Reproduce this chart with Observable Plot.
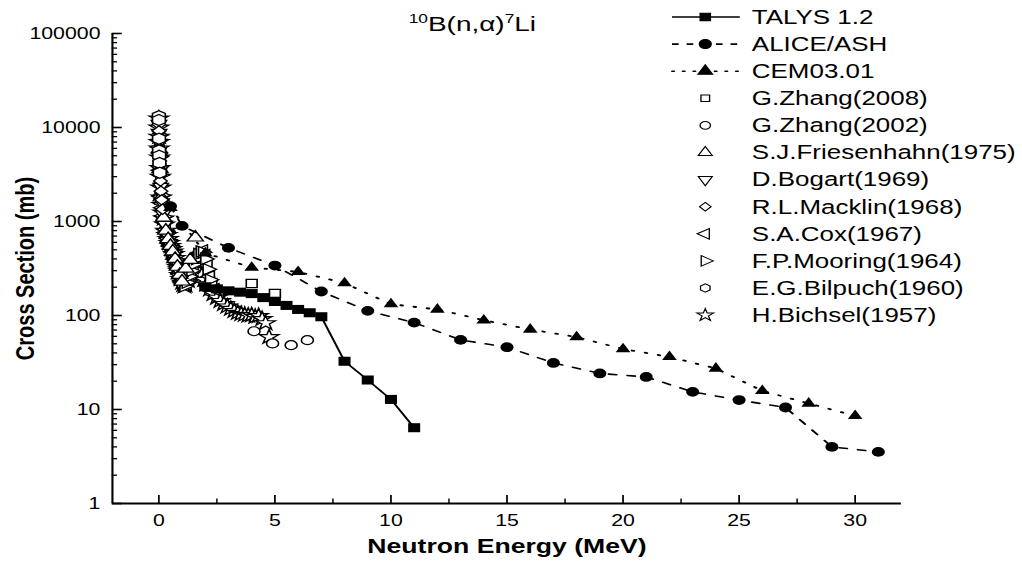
<!DOCTYPE html>
<html><head><meta charset="utf-8">
<script src="https://cdn.jsdelivr.net/npm/d3@7"></script>
<script src="https://cdn.jsdelivr.net/npm/@observablehq/plot@0.6"></script>
<style>
html,body{margin:0;padding:0;background:#fff;overflow:hidden}
#wrap{width:768px;height:569px;transform:scaleX(1.3307);transform-origin:0 0;}
</style></head><body><div id="wrap"></div>
<script>
// ---------------- data (E in MeV, cross section in mb) ----------------
const talysE  = [2, 2.5, 3, 3.5, 4, 4.5, 5, 5.5, 6, 6.5, 7, 8, 9, 10, 11];
const talysXS = [202, 192, 183, 177, 171, 155, 141, 128, 116, 107, 97, 32.6, 20.6, 12.8, 6.4];

const aliceE  = [0.5, 1, 3, 5, 7, 9, 11, 13, 15, 17, 19, 21, 23, 25, 27, 29, 31];
const aliceXS = [1455, 898, 524, 340, 180, 112, 84, 55, 46, 31.3, 24.2, 22.2, 15.4, 12.6, 10.5, 4.0, 3.54];

const cemE  = [0.5, 2, 4, 6, 8, 10, 12, 14, 16, 18, 20, 22, 24, 26, 28, 30];
const cemXS = [1400, 460, 324, 291, 221, 132, 116, 89, 71, 59, 44, 36.3, 27.3, 15.8, 11.6, 8.55];

const zhang2008E  = [4, 5];
const zhang2008XS = [219, 172];

const zhang2002E  = [4.1, 4.9, 5.7, 6.4];
const zhang2002XS = [68, 50.4, 48.3, 54.6];

const friesenhahnE  = [0.02, 0.05, 0.1, 0.2, 0.3, 0.4, 0.5, 0.6, 0.7, 0.8, 0.9, 1.0, 1.16, 1.35, 1.57];
const friesenhahnXS = [5900, 3600, 1800, 1100, 800, 650, 550, 480, 400, 330, 270, 230, 316, 390, 676];

const bogartE  = [0.003, 0.008, 0.015, 0.03, 0.05, 0.08, 0.12, 0.18, 0.25, 0.35, 0.45, 0.55, 0.65, 0.75, 0.85, 0.95];
const bogartXS = [11000, 8800, 6900, 4900, 3500, 2350, 1600, 1200, 930, 720, 590, 510, 450, 370, 300, 245];

const macklinE  = [0.002, 0.004, 0.007, 0.012, 0.02, 0.035, 0.05, 0.07, 0.09, 0.12, 0.16];
const macklinXS = [11500, 10800, 9200, 7400, 6000, 4400, 3500, 2700, 2100, 1700, 1350];

const coxE  = [0.02, 0.05, 0.1, 0.15, 0.2, 0.3, 0.4, 0.5, 0.6, 0.7, 0.8, 0.9, 1.0, 1.1, 1.2, 1.3, 1.4, 1.5, 1.6, 1.7, 1.8, 1.9, 2.0, 2.1, 2.2, 2.3, 2.4];
const coxXS = [6200, 3500, 1850, 1400, 1150, 820, 660, 560, 480, 410, 330, 275, 230, 210, 215, 240, 275, 320, 370, 420, 470, 490, 440, 340, 260, 215, 190];

const mooringE  = [0.01, 0.03, 0.06, 0.1, 0.2, 0.3, 0.4, 0.5, 0.6, 0.7, 0.8, 0.9, 1.0, 1.1, 1.2, 1.3, 1.4, 1.5, 1.6, 1.7, 1.8, 1.9, 2.0, 2.1, 2.2];
const mooringXS = [8300, 4900, 3100, 1900, 1130, 790, 640, 540, 470, 400, 320, 265, 225, 205, 225, 260, 300, 350, 400, 450, 480, 470, 400, 310, 240];

const bilpuchE  = [0.001, 0.003, 0.006, 0.01, 0.015, 0.025, 0.04];
const bilpuchXS = [13200, 12000, 7600, 5700, 5000, 4200, 3300];

const bichselE  = [0.002, 0.005, 0.01, 0.015, 0.02, 0.03, 0.045, 0.06, 0.08, 0.1, 0.13, 0.17, 0.21, 0.25, 0.3, 0.35, 0.4, 0.45, 0.5, 0.55, 0.6, 0.65, 0.7, 0.75, 0.8, 0.85, 0.9, 0.95, 1.0, 1.05, 1.1,
                   1.15, 1.25, 1.35, 1.45, 1.55, 1.65, 1.75, 1.85, 1.95, 2.05, 2.2, 2.35, 2.5, 2.65, 2.8, 2.95, 3.1, 3.25, 3.4, 3.55, 3.7, 3.85, 4.0, 4.15, 4.3, 4.45, 4.6, 4.75];
const bichselXS = [12500, 10000, 8000, 7000, 6000, 4800, 3700, 3000, 2300, 1800, 1500, 1250, 1080, 930, 800, 720, 650, 590, 550, 510, 480, 450, 410, 370, 330, 300, 270, 245, 225, 212, 205,
                   210, 235, 280, 330, 360, 350, 310, 270, 240, 215, 190, 170, 155, 143, 133, 125, 118, 112, 107, 104, 102, 100, 101, 97, 99, 92, 83, 59];

const xDomain = [-2, 32];
const yDomain = [1, 100000];
const xMajor = [0, 5, 10, 15, 20, 25, 30];
const xMinor = [2.5, 7.5, 12.5, 17.5, 22.5, 27.5];
const yMajor = [1, 10, 100, 1000, 10000, 100000];

const seriesNames = ["TALYS 1.2", "ALICE/ASH", "CEM03.01", "G.Zhang(2008)", "G.Zhang(2002)",
  "S.J.Friesenhahn(1975)", "D.Bogart(1969)", "R.L.Macklin(1968)", "S.A.Cox(1967)",
  "F.P.Mooring(1964)", "E.G.Bilpuch(1960)", "H.Bichsel(1957)"];

// ---------------- layout ----------------
const W = 768, H = 569, mL = 84, mR = 91, mT = 33, mB = 66;
const plotW = W - mL - mR, plotH = H - mT - mB;
const FONT = "'Liberation Sans', Arial, Helvetica, sans-serif";

const toRows = (E, S) => E.map((e, i) => ({E: e, s: S[i]}));
const talys = toRows(talysE, talysXS), alice = toRows(aliceE, aliceXS), cem = toRows(cemE, cemXS);
const yMinor = yMajor.slice(0, -1).flatMap(d => [2,3,4,5,6,7,8,9].map(m => m * d));

const hollow = (rows, symbol, rotate, r) =>
  Plot.dot(rows, {x: "E", y: "s", symbol, rotate, r, fill: "white", stroke: "black", strokeWidth: 1.2});

const chart = Plot.plot({
  width: W, height: H,
  marginLeft: mL, marginRight: mR, marginTop: mT, marginBottom: mB,
  style: {fontFamily: FONT, fontSize: "16px", color: "black", background: "white"},
  x: {domain: xDomain, label: null},
  y: {type: "log", domain: yDomain, label: null},
  marks: [
    // experimental data
    hollow(toRows(bichselE, bichselXS), "star", 0, 4.6),
    hollow(toRows(coxE, coxXS), "triangle", -90, 4.3),
    hollow(toRows(mooringE, mooringXS), "triangle", 90, 4.3),
    hollow(toRows(bogartE, bogartXS), "triangle", 180, 4.3),
    hollow(toRows(friesenhahnE, friesenhahnXS), "triangle", 0, 4.5),
    hollow(toRows(macklinE, macklinXS), "diamond2", 0, 4.6),
    hollow(toRows(bilpuchE, bilpuchXS), "hexagon", 0, 4.8),
    hollow(toRows(zhang2002E, zhang2002XS), "circle", 0, 4.5),
    hollow(toRows(zhang2008E, zhang2008XS), "square", 0, 4.6),
    // model calculations
    Plot.line(cem, {x: "E", y: "s", stroke: "black", strokeWidth: 1.8, strokeDasharray: "1.6,8.4", strokeLinecap: "round"}),
    Plot.dot(cem, {x: "E", y: "s", symbol: "triangle", r: 4.1, fill: "black"}),
    Plot.line(alice, {x: "E", y: "s", stroke: "black", strokeWidth: 1.6, strokeDasharray: "6,8"}),
    Plot.dot(alice, {x: "E", y: "s", symbol: "circle", r: 4.9, fill: "black"}),
    Plot.line(talys, {x: "E", y: "s", stroke: "black", strokeWidth: 1.6}),
    Plot.dot(talys, {x: "E", y: "s", symbol: "square", r: 5.1, fill: "black"}),
    // axes
    Plot.ruleX([xDomain[0]], {stroke: "black", strokeWidth: 1.6}),
    Plot.ruleY([yDomain[0]], {stroke: "black", strokeWidth: 2}),
    Plot.tickY(yMajor, {y: d => d, insetRight: plotW - 7.5, strokeWidth: 1.6}),
    Plot.tickY(yMinor, {y: d => d, insetRight: plotW - 4, strokeWidth: 1.3}),
    Plot.tickX(xMajor, {x: d => d, insetTop: plotH - 8, strokeWidth: 1.3}),
    Plot.tickX(xMinor, {x: d => d, insetTop: plotH - 4.5, strokeWidth: 1.1}),
    Plot.axisY({ticks: yMajor, tickSize: 0, tickPadding: 9, tickFormat: d => String(d), fontSize: 16, label: null}),
    Plot.axisX({ticks: xMajor, tickSize: 0, tickPadding: 11, tickFormat: d => String(d), fontSize: 16, label: null}),
    Plot.text(["Neutron Energy (MeV)"], {frameAnchor: "bottom", dy: 49, fontSize: 20, fontWeight: "bold", textAnchor: "middle"}),
    Plot.text(["Cross Section (mb)"], {frameAnchor: "left", dx: -65, rotate: -90, fontSize: 20, fontWeight: "bold", textAnchor: "middle"})
  ]
});

document.getElementById("wrap").appendChild(chart);
const svg = d3.select(chart);

// ---------------- title ----------------
const title = svg.append("text").attr("x", 355).attr("y", 31).attr("text-anchor", "middle")
  .attr("font-family", FONT).attr("font-size", 21).attr("fill", "black");
title.append("tspan").attr("font-size", 13).attr("dy", -8).text("10");
title.append("tspan").attr("dy", 8).text("B(n,\u03b1)");
title.append("tspan").attr("font-size", 13).attr("dy", -8).text("7");
title.append("tspan").attr("dy", 8).text("Li");

// ---------------- legend ----------------
const sqrt3 = Math.sqrt(3);
const hexSymbol = {draw(ctx, size) {
  const r = Math.sqrt(size / (1.5 * sqrt3));
  for (let k = 0; k < 6; k++) {
    const a = Math.PI / 2 + k * Math.PI / 3;
    const px = r * Math.cos(a), py = r * Math.sin(a);
    if (k === 0) ctx.moveTo(px, py); else ctx.lineTo(px, py);
  }
  ctx.closePath();
}};
const legendStyle = [
  {sym: d3.symbolSquare, size: 60, fill: "black", rot: 0, dash: "none"},
  {sym: d3.symbolCircle, size: 64, fill: "black", rot: 0, dash: "5,6"},
  {sym: d3.symbolTriangle, size: 52, fill: "black", rot: 0, dash: "1.6,6.4"},
  {sym: d3.symbolSquare, size: 42, fill: "white", rot: 0},
  {sym: d3.symbolCircle, size: 48, fill: "white", rot: 0},
  {sym: d3.symbolTriangle, size: 48, fill: "white", rot: 0},
  {sym: d3.symbolTriangle, size: 48, fill: "white", rot: 180},
  {sym: d3.symbolDiamond2, size: 48, fill: "white", rot: 0},
  {sym: d3.symbolTriangle, size: 48, fill: "white", rot: -90},
  {sym: d3.symbolTriangle, size: 48, fill: "white", rot: 90},
  {sym: hexSymbol, size: 44, fill: "white", rot: 0},
  {sym: d3.symbolStar, size: 48, fill: "white", rot: 0}
];
const lgX = 530, lgTextX = 565;
const lg = svg.append("g").attr("font-family", FONT).attr("font-size", 19.5)
  .attr("fill", "black").attr("text-anchor", "start");
seriesNames.forEach((name, i) => {
  const st = legendStyle[i];
  const y = 17 + 27.1 * i;
  if (st.dash !== undefined) {
    lg.append("line").attr("x1", lgX - 25).attr("x2", lgX + 26).attr("y1", y).attr("y2", y)
      .attr("stroke", "black").attr("stroke-width", 1.6)
      .attr("stroke-dasharray", st.dash).attr("stroke-linecap", st.dash === "1.6,6.4" ? "round" : "butt");
  }
  lg.append("path").attr("d", d3.symbol(st.sym, st.size)())
    .attr("transform", `translate(${lgX},${y}) rotate(${st.rot})`)
    .attr("fill", st.fill).attr("stroke", "black").attr("stroke-width", 1);
  lg.append("text").attr("x", lgTextX).attr("y", y).attr("dy", "0.35em")
    .attr("text-anchor", "start").text(name);
});
</script>
</body></html>
